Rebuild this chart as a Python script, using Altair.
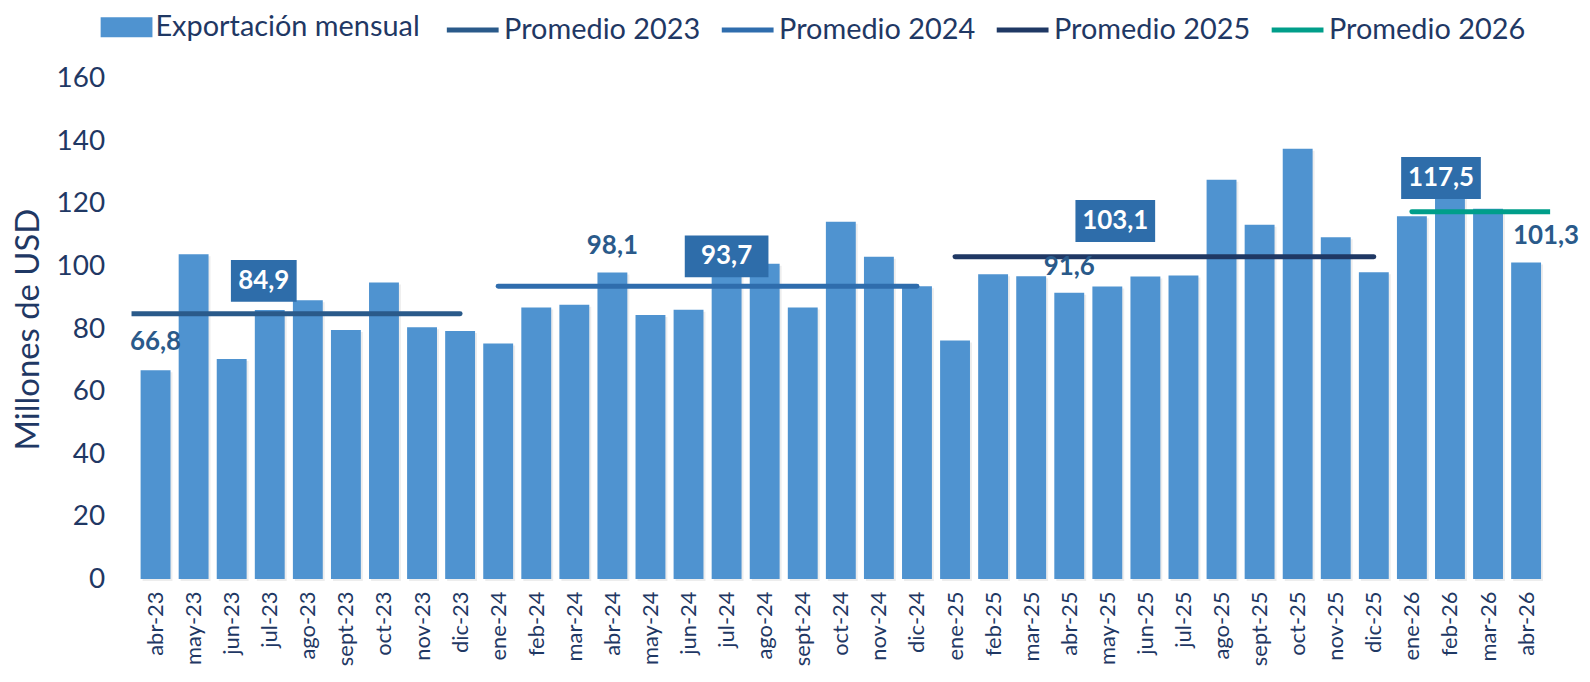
import json
import altair as alt
import pandas as pd

# ---------------- data ----------------
meses = ["abr-23", "may-23", "jun-23", "jul-23", "ago-23", "sept-23", "oct-23", "nov-23", "dic-23",
         "ene-24", "feb-24", "mar-24", "abr-24", "may-24", "jun-24", "jul-24", "ago-24", "sept-24",
         "oct-24", "nov-24", "dic-24",
         "ene-25", "feb-25", "mar-25", "abr-25", "may-25", "jun-25", "jul-25", "ago-25", "sept-25",
         "oct-25", "nov-25", "dic-25",
         "ene-26", "feb-26", "mar-26", "abr-26"]
exportacion = [66.8, 103.9, 70.4, 86.1, 89.2, 79.7, 94.9, 80.6, 79.4,
               75.4, 86.9, 87.8, 98.1, 84.5, 86.2, 106.6, 100.9, 86.9, 114.3, 103.1, 93.7,
               76.3, 97.5, 96.9, 91.6, 93.6, 96.8, 97.1, 127.8, 113.4, 137.7, 109.4, 98.2,
               116.1, 134.1, 118.5, 101.3]

promedio_series = ["Promedio 2023", "Promedio 2024", "Promedio 2025", "Promedio 2026"]
promedio_valor = [84.9, 93.7, 103.1, 117.5]
promedio_inicio = ["ene-23", "ene-24", "ene-25", "ene-26"]
promedio_fin = ["dic-23", "dic-24", "dic-25", "dic-26"]
promedio_etiqueta_mes = ["jul-23", "jul-24", "may-25", "feb-26"]

etiqueta_meses = ["abr-23", "abr-24", "abr-25", "abr-26"]

# ---------------- styles ----------------
FONT = "Lato"
NAVY = "#1F3864"
BAR = "#4F93D0"
BOX = "#2E6DAA"
LABEL = "#2A5A8A"
line_colors = ["#2A5A8A", "#2F6DAD", "#1F3864", "#009E8A"]
box_style = [dict(dx=-6, dy=-33, w=66), dict(dx=0, dy=-30, w=84),
             dict(dx=8, dy=-36, w=80), dict(dx=-9, dy=-34, w=80)]
plain_style = [dict(dx=0, dy=-28), dict(dx=0, dy=-27), dict(dx=0, dy=-26), dict(dx=20, dy=-27)]

abbr = ["ene", "feb", "mar", "abr", "may", "jun", "jul", "ago", "sept", "oct", "nov", "dic"]


def month_index(lbl):
    m, y = lbl.split("-")
    return (int(y) - 23) * 12 + abbr.index(m) - 3


df = pd.DataFrame({"mes": meses, "idx": [month_index(m) for m in meses], "valor": exportacion,
                   "serie": "Exportación mensual"})
prom = pd.DataFrame({"serie": promedio_series, "valor": promedio_valor,
                     "x0": [month_index(m) for m in promedio_inicio],
                     "x1": [month_index(m) for m in promedio_fin],
                     "xl": [month_index(m) for m in promedio_etiqueta_mes],
                     "texto": [f"{v:.1f}".replace(".", ",") for v in promedio_valor]})
lab = pd.DataFrame({"mes": etiqueta_meses, "idx": [month_index(m) for m in etiqueta_meses],
                    "valor": [exportacion[meses.index(m)] for m in etiqueta_meses]})
lab["texto"] = [f"{v:.1f}".replace(".", ",") for v in lab["valor"]]

n = len(meses)
xscale = alt.Scale(domain=[-0.5, n - 0.5], nice=False, zero=False)
yscale = alt.Scale(domain=[0, 160], nice=False)

label_expr = json.dumps(meses).replace('"', "'") + "[datum.value]"

x_axis = alt.Axis(values=list(range(n)), labelExpr=label_expr, labelAngle=-90, ticks=False,
                  domain=False, grid=False, labelPadding=12, labelOverlap=False,
                  labelFont=FONT, labelFontSize=22, labelColor=NAVY, title=None)
y_axis = alt.Axis(values=list(range(0, 161, 20)), ticks=False, domain=False, grid=False,
                  labelPadding=27, labelFont=FONT, labelFontSize=28, labelColor=NAVY,
                  labelOverlap=False,
                  title="Millones de USD", titleFont=FONT, titleFontSize=33,
                  titleFontWeight="normal", titleColor=NAVY, titlePadding=11)


def X(field):
    return alt.X(field, scale=xscale, axis=x_axis)


def Y(field):
    return alt.Y(field, scale=yscale, axis=y_axis)


base = alt.Chart(df)

shadow = base.mark_bar(size=30, color="#000000", opacity=0.07, xOffset=2, yOffset=2).encode(
    x=X("idx:Q"), y=Y("valor:Q"),
)

bars = base.mark_bar(size=30).encode(
    x=X("idx:Q"), y=Y("valor:Q"),
    fill=alt.Fill("serie:N", scale=alt.Scale(domain=["Exportación mensual"], range=[BAR]),
                  legend=alt.Legend(title=None, orient="none", legendX=-31, legendY=-78,
                                    symbolType="M-1,-0.385H1V0.385H-1Z", symbolSize=2704,
                                    symbolStrokeWidth=0, labelFont=FONT, labelFontSize=29,
                                    labelColor=NAVY, labelOffset=3, labelLimit=500)),
)

lines = alt.Chart(prom).mark_rule(strokeWidth=5, strokeCap="round", clip=True).encode(
    x=X("x0:Q"),
    x2="x1:Q",
    y=Y("valor:Q"),
    stroke=alt.Stroke("serie:N", scale=alt.Scale(domain=promedio_series, range=line_colors),
                      legend=alt.Legend(title=None, orient="none", legendX=314, legendY=-78,
                                        direction="horizontal", symbolType="stroke",
                                        symbolSize=2704, symbolStrokeWidth=5,
                                        labelFont=FONT, labelFontSize=29, labelColor=NAVY,
                                        labelOffset=3, columnPadding=10, labelLimit=500)),
)

layers = [shadow, bars, lines]

for i, st in enumerate(box_style):
    sub = alt.Chart(prom).transform_filter(alt.datum.serie == promedio_series[i])
    h = 42
    path = f"M-1,-{h / st['w']:.4f}H1V{h / st['w']:.4f}H-1Z"
    layers.append(sub.mark_point(shape=path, size=st["w"] ** 2, filled=True, fill=BOX,
                                 opacity=1, strokeWidth=0, xOffset=st["dx"], yOffset=st["dy"]).encode(
        x=X("xl:Q"), y=Y("valor:Q")))
    layers.append(sub.mark_text(font=FONT, fontSize=26, fontWeight="bold", color="white",
                                dx=st["dx"], dy=st["dy"], baseline="middle", align="center").encode(
        x=X("xl:Q"), y=Y("valor:Q"), text="texto:N"))

for i, st in enumerate(plain_style):
    sub = alt.Chart(lab).transform_filter(alt.datum.mes == etiqueta_meses[i])
    layers.append(sub.mark_text(font=FONT, fontSize=26, fontWeight="bold", color=LABEL,
                                dx=st["dx"], dy=st["dy"], baseline="middle", align="center").encode(
        x=X("idx:Q"), y=Y("valor:Q"), text="texto:N"))

chart = alt.layer(*layers).properties(
    width=1424, height=502,
    padding={"left": 124, "top": 70, "right": 32, "bottom": 90},
    autosize=alt.AutoSizeParams(type="none"),
    background="white",
).configure_view(strokeWidth=0, stroke="transparent").configure_axisX(labelOverlap=False)

chart.save("out.html", embed_options={"renderer": "svg", "actions": False})
